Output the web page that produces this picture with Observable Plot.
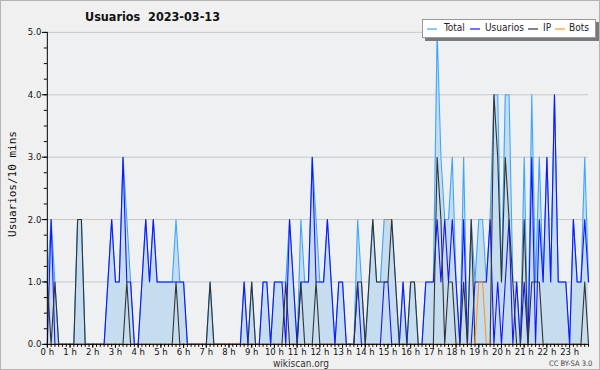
<!DOCTYPE html>
<html>
<head>
<meta charset="utf-8">
<script src="https://cdn.jsdelivr.net/npm/d3@7"></script>
<script src="https://cdn.jsdelivr.net/npm/@observablehq/plot@0.6"></script>
<style>
  html, body { margin: 0; padding: 0; background: #f0f0f0; }
  #wrap { position: relative; width: 600px; height: 370px; box-sizing: border-box; border: 1px solid #b4b4b4; background: #f0f0f0; overflow: hidden; font-family: "DejaVu Sans Condensed", "DejaVu Sans", sans-serif; }
  #chart svg { position: absolute; left: -1px; top: -1px; }
  .t { position: absolute; white-space: nowrap; color: #111; }
  #title { left: 84px; top: 8px; font-weight: bold; font-size: 12.5px; }
  #ylab { left: 11px; top: 183px; font-family: "DejaVu Sans Mono", monospace; font-size: 11px; transform: translate(-50%, -50%) rotate(-90deg); }
  #src { left: 300px; top: 357px; font-size: 10px; line-height: 11px; transform: translateX(-50%); color: #333; }
  #cc { left: 548px; top: 358px; font-size: 7.5px; line-height: 9px; color: #444; }
  #legend { position: absolute; left: 421px; top: 18px; width: 172px; height: 17px; background: #fff; border: 1px solid #999; box-shadow: 3px 3px 0 #7a7a7a; font-size: 10px; }
  #legend svg.sw { position: absolute; top: 8px; width: 10px; height: 2px; }
  #legend span.lb { position: absolute; top: 2px; color: #222; }
</style>
</head>
<body>
<div id="wrap">
  <div id="chart"></div>
  <div class="t" id="title">Usuarios&nbsp;&nbsp;2023-03-13</div>
  <div class="t" id="ylab">Usuarios/10 mins</div>
  <div class="t" id="src">wikiscan.org</div>
  <div class="t" id="cc">CC BY-SA 3.0</div>
  <div id="legend"></div>
</div>
<script>
// 10-minute slots, 0 .. 143
const usuarios = [0,2,0,0,0,0,0,0,0,0,0,0,0,0,0,0,1,2,1,1,3,1,1,0,
  0,1,2,1,2,1,1,1,1,1,1,1,1,0,0,0,0,0,0,0,0,0,0,0,
  0,0,0,0,1,0,0,0,0,1,1,0,1,1,1,0,2,1,0,1,1,1,3,1,
  1,1,2,1,0,1,1,0,0,0,1,0,0,0,0,0,0,1,1,0,0,0,1,0,
  0,0,0,0,1,1,1,2,1,2,1,2,1,0,2,0,0,1,1,1,1,2,0,1,
  0,1,2,0,1,0,1,0,3,0,2,1,3,1,4,1,1,1,0,2,1,1,2,1];
const ip = [1,0,1,0,0,0,0,0,2,2,0,0,0,0,0,0,0,0,0,0,0,1,0,0,
  0,0,0,0,0,0,0,0,0,0,1,0,0,0,0,0,0,0,0,1,0,0,0,0,
  0,0,0,0,0,0,1,0,0,0,0,0,0,0,0,1,0,0,0,1,0,0,0,1,
  0,0,0,0,0,0,0,0,0,0,1,1,0,1,2,1,1,1,1,2,1,0,0,0,
  1,1,0,0,0,0,0,3,2,0,1,1,0,0,1,0,2,0,0,0,0,0,4,3,
  1,3,2,1,0,0,2,0,1,1,1,0,0,0,0,0,0,0,0,0,0,0,1,0];
const bots = [0,0,0,0,0,0,0,0,0,0,0,0,0,0,0,0,0,0,0,0,0,0,0,0,
  0,0,0,0,0,0,0,0,0,0,0,0,0,0,0,0,0,0,0,0,0,0,0,0,
  0,0,0,0,0,0,0,0,0,0,0,0,0,0,0,0,0,0,0,0,0,0,0,0,
  0,0,0,0,0,0,0,0,0,0,0,0,0,0,0,0,0,0,0,0,0,0,0,0,
  0,0,0,0,0,0,0,0,0,0,0,0,0,0,0,0,0,0,1,1,0,0,0,0,
  0,0,0,0,0,0,0,0,0,0,0,0,0,0,0,0,0,0,0,0,0,0,0,0];
const total = [1,2,1,0,0,0,0,0,2,2,0,0,0,0,0,0,1,2,1,1,3,2,1,0,
  0,1,2,1,2,1,1,1,1,1,2,1,1,0,0,0,0,0,0,1,0,0,0,0,
  0,0,0,0,1,0,1,0,0,1,1,0,1,1,1,1,2,1,0,2,1,1,3,2,
  1,1,2,1,0,1,1,0,0,0,2,1,0,1,2,1,1,2,2,2,1,0,1,0,
  1,1,0,0,1,1,1,5,3,2,2,3,1,0,3,0,2,1,2,2,1,2,4,4,
  1,4,4,1,1,0,3,0,4,1,3,1,3,1,4,1,1,1,0,2,1,1,3,1];
const hourLabels = d3.range(0, 24).map(h => h + " h");
const yTickValues = [0, 1, 2, 3, 4, 5];

const legendItems = [
  {name: "Total", color: "#3ea6ff"},
  {name: "Usuarios", color: "#1515ff"},
  {name: "IP", color: "#333333"},
  {name: "Bots", color: "#ff9a1a"}
];

const rows = total.map((t, i) => ({h: i / 6, total: t, usuarios: usuarios[i], ip: ip[i], bots: bots[i]}));
const none = () => "";

const chart = Plot.plot({
  width: 600, height: 370,
  marginLeft: 47, marginRight: 10, marginTop: 32, marginBottom: 25,
  style: {background: "transparent", fontFamily: "'DejaVu Sans Condensed', 'DejaVu Sans', sans-serif", fontSize: "10px", color: "#111"},
  x: {domain: [0, 143 / 6]},
  y: {domain: [0, 5]},
  marks: [
    Plot.frame({fill: "#eef0f2", stroke: null}),
    Plot.gridY([1, 2, 3, 4, 5], {stroke: "#c8c8c8", strokeOpacity: 1}),
    Plot.areaY(rows, {x: "h", y: "total", fill: "#c6ddf0", fillOpacity: 1}),
    Plot.lineY(rows, {x: "h", y: "total", stroke: "#3ea6ff", strokeWidth: 1.1}),
    Plot.lineY(rows, {x: "h", y: "usuarios", stroke: "#1515ff", strokeWidth: 1.1}),
    Plot.lineY(rows, {x: "h", y: "ip", stroke: "#333333", strokeWidth: 1.1}),
    Plot.lineY(rows, {x: "h", y: "bots", stroke: "#ff9a1a", strokeWidth: 1.1}),
    Plot.axisY(d3.range(0, 5.001, 0.25), {tickSize: 3, tickFormat: none, label: null, stroke: "#000"}),
    Plot.axisY(yTickValues, {tickSize: 5, tickFormat: d => d.toFixed(1), tickPadding: 1, label: null, stroke: "#000", fontSize: 9.5}),
    Plot.axisX(d3.range(0, 144).map(i => i / 6), {tickSize: 3, tickFormat: none, label: null, stroke: "#000"}),
    Plot.axisX(d3.range(0, 24), {tickSize: 4, tickFormat: d => hourLabels[d], tickPadding: 0, label: null, stroke: "#000", fontSize: 9.5}),
    Plot.ruleY([0], {stroke: "#000"}),
    Plot.ruleX([0], {stroke: "#000"})
  ]
});
document.getElementById("chart").appendChild(chart);

const lg = document.getElementById("legend");
const swX = [4, 47, 105, 132];
const lbX = [21, 62, 120, 146];
const NS = "http://www.w3.org/2000/svg";
legendItems.forEach((d, k) => {
  const s = document.createElementNS(NS, "svg");
  s.setAttribute("class", "sw");
  s.setAttribute("width", "10"); s.setAttribute("height", "2");
  s.style.left = swX[k] + "px";
  const ln = document.createElementNS(NS, "line");
  ln.setAttribute("x1", "0"); ln.setAttribute("x2", "10");
  ln.setAttribute("y1", "1"); ln.setAttribute("y2", "1");
  ln.setAttribute("stroke", d.color); ln.setAttribute("stroke-width", "1.2");
  s.appendChild(ln);
  lg.appendChild(s);
  const l = document.createElement("span");
  l.className = "lb"; l.style.left = lbX[k] + "px"; l.textContent = d.name;
  lg.appendChild(l);
});
</script>
</body>
</html>
